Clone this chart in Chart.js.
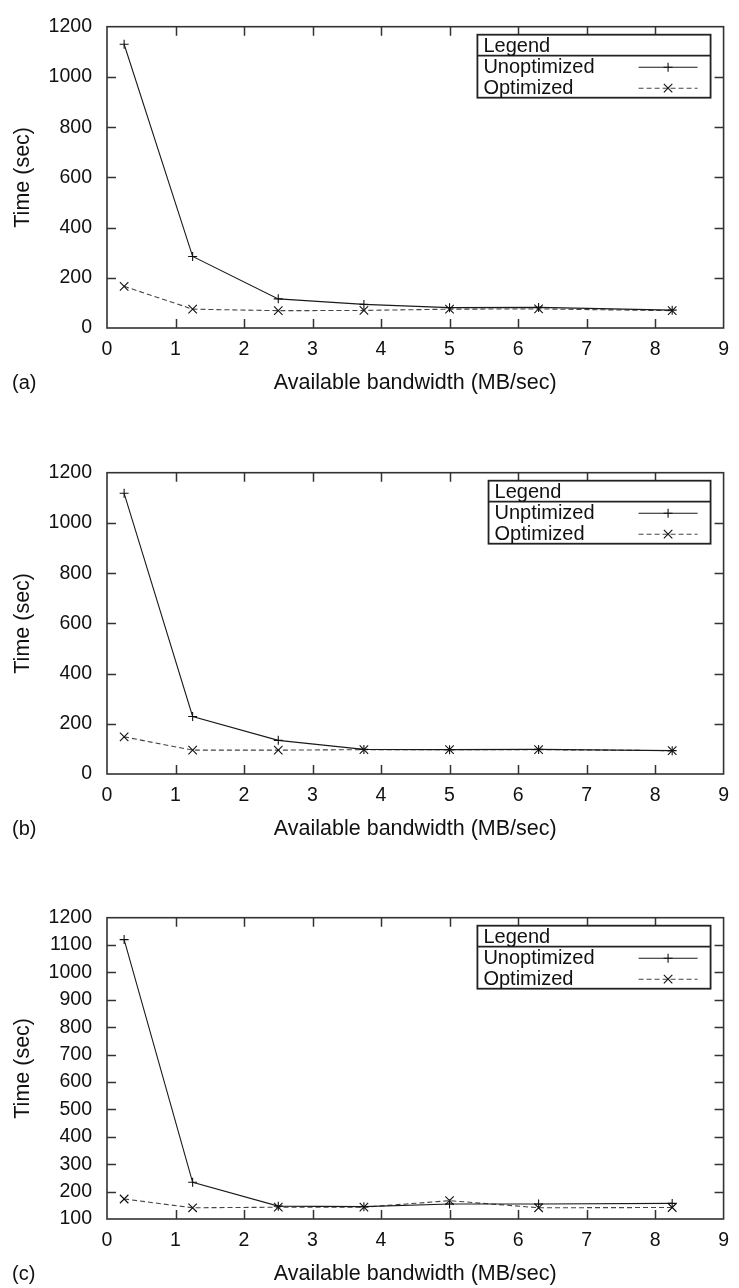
<!DOCTYPE html>
<html>
<head>
<meta charset="utf-8">
<script src="https://cdn.jsdelivr.net/npm/chart.js@4.4.1/dist/chart.umd.min.js"></script>
<style>
    html, body { margin: 0; padding: 0; background: #fff; overflow: hidden; }
    .panel { position: absolute; left: 0; width: 739px; height: 445px; }
</style>
</head>
<body>
<div class="panel" style="top: 0px;"><canvas id="chartA" width="739" height="445"></canvas></div>
<div class="panel" style="top: 446px;"><canvas id="chartB" width="739" height="445"></canvas></div>
<div class="panel" style="top: 891px;"><canvas id="chartC" width="739" height="445"></canvas></div>
<script>
// x values: available bandwidth (MB/sec)
const bandwidth = [0.25, 1.25, 2.5, 3.75, 5, 6.3, 8.25];

// (a)
const unoptA = [1130, 285, 116, 94, 81, 82, 71];
const optA = [166, 75, 69, 70, 75, 76, 69];

// (b)
const unoptB = [1118, 229, 134, 98, 97, 98, 93];
const optB = [148, 95, 95, 97, 97, 97, 93];

// (c)
const unoptC = [1120, 234, 147, 145, 155, 155, 157];
const optC = [173, 141, 143, 143, 167, 141, 142];

const FONT = '"Liberation Sans", Arial, sans-serif';
const TICK_SIZE = 19.5;
const TEXT_SIZE = 20;
const TITLE_SIZE = 21.5;

// gnuplot style frame: box around plot area + inward ticks on all sides
const framePlugin = {
    id: 'frame',
    afterDatasetsDraw(chart) {
        const ctx = chart.ctx;
        const a = chart.chartArea;
        const xs = chart.scales.x, ys = chart.scales.y;
        const tl = 9;
        ctx.save();
        ctx.strokeStyle = '#333';
        ctx.lineWidth = 1.5;
        ctx.beginPath();
        xs.ticks.forEach(t => {
            const px = Math.round(xs.getPixelForValue(t.value)) + 0.5;
            if (px <= a.left + 1 || px >= a.right - 1) return;
            ctx.moveTo(px, a.bottom); ctx.lineTo(px, a.bottom - tl);
            ctx.moveTo(px, a.top); ctx.lineTo(px, a.top + tl);
        });
        ys.ticks.forEach(t => {
            const py = Math.round(ys.getPixelForValue(t.value)) + 0.5;
            if (py <= a.top + 1 || py >= a.bottom - 1) return;
            ctx.moveTo(a.left, py); ctx.lineTo(a.left + tl, py);
            ctx.moveTo(a.right, py); ctx.lineTo(a.right - tl, py);
        });
        ctx.stroke();
        ctx.lineWidth = 1.6;
        ctx.strokeRect(a.left, a.top, a.right - a.left, a.bottom - a.top);
        ctx.restore();
    }
};

// boxed legend with a "Legend" header, label left and sample right
const boxLegendPlugin = {
    id: 'boxLegend',
    afterDraw(chart, args, opts) {
        const ctx = chart.ctx;
        const a = chart.chartArea;
        const sets = chart.data.datasets;
        const rowH = 21;
        const sampleLen = 59;
        ctx.save();
        ctx.font = TEXT_SIZE + 'px ' + FONT;
        let maxW = ctx.measureText(opts.header).width;
        sets.forEach(ds => { maxW = Math.max(maxW, ctx.measureText(ds.label).width); });
        const right = a.right - 13;
        const width = 6 + maxW + 44 + sampleLen + 13;
        const left = right - width;
        const top = a.top + 8;
        const height = rowH * (sets.length + 1);

        ctx.fillStyle = '#fff';
        ctx.fillRect(left, top, width, height);
        ctx.strokeStyle = '#222';
        ctx.lineWidth = 1.8;
        ctx.strokeRect(left, top, width, height);
        ctx.beginPath();
        ctx.moveTo(left, top + rowH); ctx.lineTo(right, top + rowH);
        ctx.stroke();

        ctx.fillStyle = '#111';
        ctx.textBaseline = 'middle';
        ctx.textAlign = 'left';
        ctx.fillText(opts.header, left + 6, top + rowH / 2 + 1);

        sets.forEach((ds, i) => {
            const cy = top + rowH * (i + 1) + rowH / 2 + 1;
            ctx.fillStyle = '#111';
            ctx.fillText(ds.label, left + 6, cy);
            const x1 = right - 13 - sampleLen, x2 = right - 13;
            ctx.strokeStyle = ds.borderColor;
            ctx.lineWidth = ds.borderWidth;
            ctx.setLineDash(ds.borderDash || []);
            ctx.beginPath();
            ctx.moveTo(x1, cy); ctx.lineTo(x2, cy);
            ctx.stroke();
            ctx.setLineDash([]);
            ctx.strokeStyle = '#111';
            Chart.helpers.drawPoint(ctx, {
                pointStyle: ds.pointStyle,
                radius: ds.pointRadius,
                borderWidth: ds.pointBorderWidth,
                rotation: 0
            }, (x1 + x2) / 2, cy);
        });
        ctx.restore();
    }
};

// "(a)", "(b)", "(c)" under the y axis
const panelLabelPlugin = {
    id: 'panelLabel',
    afterDraw(chart, args, opts) {
        const ctx = chart.ctx;
        ctx.save();
        ctx.font = TEXT_SIZE + 'px ' + FONT;
        ctx.fillStyle = '#111';
        ctx.textAlign = 'left';
        ctx.textBaseline = 'middle';
        ctx.fillText(opts.text, 12, chart.chartArea.bottom + 55);
        ctx.restore();
    }
};

function makeChart(id, panel, unoptLabel, unopt, opt, yMin, yStep) {
    return new Chart(document.getElementById(id), {
        type: 'line',
        data: {
            datasets: [{
                label: unoptLabel,
                data: bandwidth.map((x, i) => ({ x: x, y: unopt[i] })),
                borderColor: '#1a1a1a',
                borderWidth: 1.1,
                pointStyle: 'cross',
                pointRadius: 4.5,
                pointBorderWidth: 1.1,
                pointBorderColor: '#111',
                pointBackgroundColor: '#111',
                tension: 0
            }, {
                label: 'Optimized',
                data: bandwidth.map((x, i) => ({ x: x, y: opt[i] })),
                borderColor: '#444',
                borderWidth: 1.1,
                borderDash: [5, 3],
                pointStyle: 'crossRot',
                pointRadius: 6,
                pointBorderWidth: 1.1,
                pointBorderColor: '#111',
                pointBackgroundColor: '#111',
                tension: 0
            }]
        },
        options: {
            responsive: false,
            animation: false,
            devicePixelRatio: 1,
            layout: { padding: { top: 14, right: 9, left: 0, bottom: 0 } },
            plugins: {
                legend: { display: false },
                tooltip: { enabled: false },
                boxLegend: { header: 'Legend' },
                panelLabel: { text: panel }
            },
            scales: {
                x: {
                    type: 'linear',
                    min: 0,
                    max: 9,
                    afterFit: s => { s.height = 117; },
                    ticks: {
                        stepSize: 1,
                        padding: 10,
                        color: '#111',
                        font: { family: FONT, size: TICK_SIZE },
                        callback: v => String(v)
                    },
                    grid: { display: false, drawTicks: false },
                    border: { display: false },
                    title: {
                        display: true,
                        text: 'Available bandwidth (MB/sec)',
                        color: '#111',
                        font: { family: FONT, size: TITLE_SIZE },
                        padding: { top: 0, bottom: 49 }
                    }
                },
                y: {
                    type: 'linear',
                    min: yMin,
                    max: 1200,
                    afterFit: s => { s.width = 107; },
                    ticks: {
                        stepSize: yStep,
                        padding: 15,
                        color: '#111',
                        font: { family: FONT, size: TICK_SIZE },
                        callback: v => String(v)
                    },
                    grid: { display: false, drawTicks: false },
                    border: { display: false },
                    title: {
                        display: true,
                        text: 'Time (sec)',
                        color: '#111',
                        font: { family: FONT, size: TITLE_SIZE },
                        padding: { top: 10, bottom: 0 }
                    }
                }
            }
        },
        plugins: [framePlugin, boxLegendPlugin, panelLabelPlugin]
    });
}

makeChart('chartA', '(a)', 'Unoptimized', unoptA, optA, 0, 200);
makeChart('chartB', '(b)', 'Unptimized', unoptB, optB, 0, 200);
makeChart('chartC', '(c)', 'Unoptimized', unoptC, optC, 100, 100);
</script>
</body>
</html>
